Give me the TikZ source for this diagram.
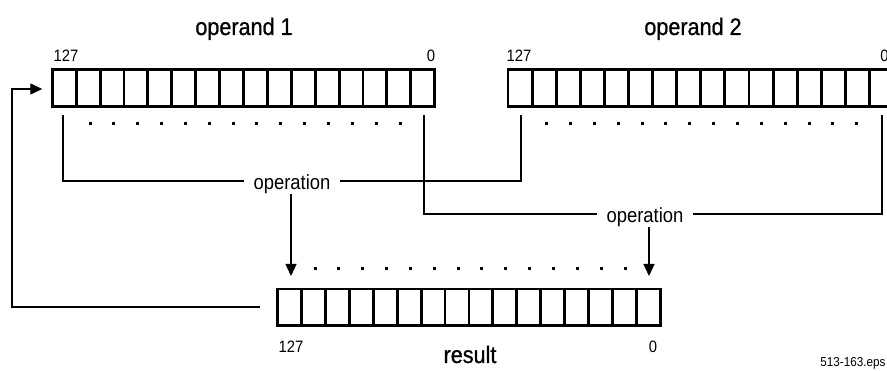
\documentclass[tikz,border=0pt]{standalone}
\usepackage{fontspec}
\setmainfont[FakeStretch=0.9]{Liberation Sans}
\newfontfamily\headfont[FakeStretch=0.9,FakeBold=0.8]{Liberation Sans}
\usetikzlibrary{arrows.meta}
\tikzset{
  reg/.style={draw, line width=2.9pt, minimum height=36.8pt, inner sep=0pt, outer sep=0pt},
  cellline/.style={line width=2.9pt},
  conn/.style={line width=1.3pt},
  arr/.style={conn, -{Triangle[length=12pt,width=11pt]}},
  head/.style={anchor=base, font=\headfont\fontsize{24}{28}\selectfont, inner sep=0pt},
  bitlab/.style={anchor=base, font=\fontsize{16.5}{19}\selectfont, inner sep=0pt},
  optext/.style={anchor=base, font=\fontsize{20.5}{24}\selectfont, inner sep=0pt},
  bitdot/.style={fill, minimum size=3pt, inner sep=0pt, outer sep=0pt}
}
\begin{document}
\begin{tikzpicture}[x=1pt,y=-1pt]
\useasboundingbox (0,0) rectangle (887,371);

% registers
\node[reg, minimum width=382.4pt] (r1) at (243.5,88) {};
\foreach \i in {1,...,15} \draw[cellline] ({52.3+\i*23.9},69.6) -- ({52.3+\i*23.9},106.4);
\node[reg, minimum width=385.6pt] (r2) at (700.8,88) {};
\foreach \i in {1,...,15} \draw[cellline] ({508+\i*24.1},69.6) -- ({508+\i*24.1},106.4);
\node[reg, minimum width=383.4pt] (r3) at (469,307.4) {};
\foreach \i in {1,...,15} \draw[cellline] ({277.3+\i*23.96},289) -- ({277.3+\i*23.96},325.8);

% dots
\foreach \i in {0,...,13} {
  \node[bitdot] (da\i) at ({90+\i*23.85},124) {};
  \node[bitdot] (db\i) at ({546.7+\i*23.85},124) {};
  \node[bitdot] (dc\i) at ({315+\i*23.85},269) {};
}

% labels
\node[head] (lab1) at (244,35) {operand 1};
\node[head] (lab2) at (693,35) {operand 2};
\node[bitlab] (hia) at (66,62) {127};
\node[bitlab] (loa) at (431,62) {0};
\node[bitlab] (hib) at (519,62) {127};
\node[bitlab] (lob) at (884.5,62) {0};
\node[bitlab] (hic) at (291,353) {127};
\node[bitlab] (loc) at (653,353) {0};
\node[head] (labr) at (470,363) {result};
\node[anchor=base, font=\fontsize{13}{15}\selectfont, inner sep=0pt] (eps) at (853,366.7) {513-163.eps};

% operation 1
\node[optext, inner xsep=9pt] (op1) at (292,190) {operation};
\coordinate (t1a) at (63,115);
\coordinate (h1) at (63,181);
\coordinate (t1b) at (521,115);
\draw[conn] (t1a) -- (h1) -- (op1.west |- h1);
\draw[conn] (op1.east |- h1) -| (t1b);
\coordinate (tip1) at (291,276);
\draw[arr] (op1.south -| tip1) -- (tip1);

% operation 2
\node[optext, inner xsep=9pt] (op2) at (645,223) {operation};
\coordinate (t2a) at (424,115);
\coordinate (h2) at (424,214);
\coordinate (t2b) at (882,115);
\draw[conn] (t2a) -- (h2) -- (op2.west |- h2);
\draw[conn] (op2.east |- h2) -| (t2b);
\coordinate (tip2) at (649,276);
\draw[arr] (op2.south -| tip2) -- (tip2);

% feedback
\coordinate (fbs) at (260,307);
\coordinate (fbc) at (12,307);
\draw[arr] (fbs) -- (fbc) |- ([xshift=-10pt,yshift=-1pt]r1.west);
\end{tikzpicture}
\end{document}
